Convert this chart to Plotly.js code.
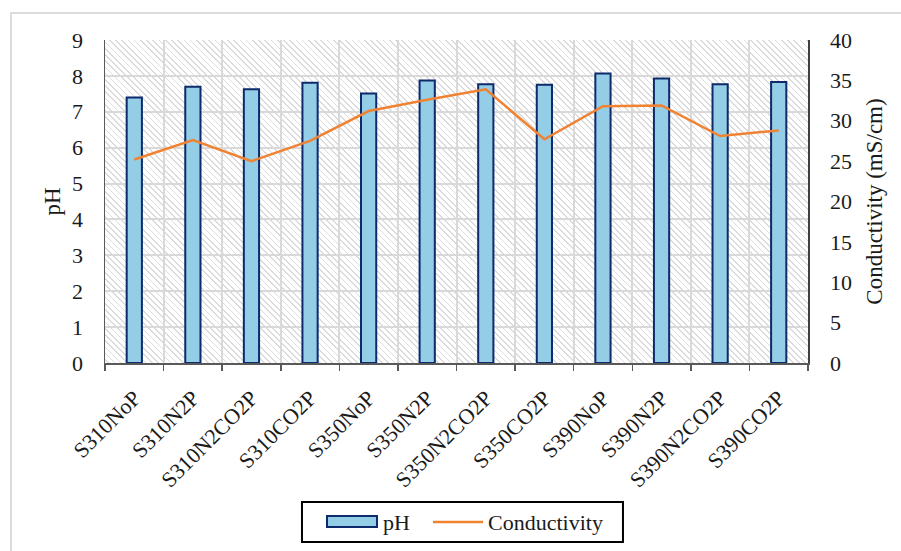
<!DOCTYPE html>
<html>
<head>
<meta charset="utf-8">
<script src="https://cdn.plot.ly/plotly-3.0.1.min.js"></script>
<style>
  html, body { margin: 0; padding: 0; background: #ffffff; }
  #wrap { position: relative; width: 901px; height: 551px; overflow: hidden; }
  /* outer frame of the figure (top and left edges) */
  #frame { position: absolute; left: 10px; top: 12px; width: 1000px; height: 1000px;
           border-top: 2px solid #dcdcdc; border-left: 2px solid #dcdcdc; }
  /* diagonal hatch behind the plotting area */
  #hatch { position: absolute; left: 105px; top: 40px; width: 703px; height: 323px;
           background: repeating-linear-gradient(45deg, #ffffff 0px, #ffffff 2px, #dcdcdc 2px, #dcdcdc 3.2px, #ffffff 3.2px, #ffffff 4.4px); }
  #chart { position: absolute; left: 0; top: 0; width: 901px; height: 551px; }
</style>
</head>
<body>
<div id="wrap">
  <div id="frame"></div>
  <div id="hatch"></div>
  <div id="chart"></div>
</div>
<script>
// Samples (synthesis temperature + purge gas)
const categories = ['S310NoP', 'S310N2P', 'S310N2CO2P', 'S310CO2P',
                    'S350NoP', 'S350N2P', 'S350N2CO2P', 'S350CO2P',
                    'S390NoP', 'S390N2P', 'S390N2CO2P', 'S390CO2P'];
// pH of each sample (left axis)
const phValues = [7.40, 7.70, 7.63, 7.81, 7.51, 7.87, 7.77, 7.75, 8.07, 7.93, 7.77, 7.83];
// Electrical conductivity, mS/cm (right axis)
const conductivity = [25.2, 27.6, 25.0, 27.5, 31.2, 32.6, 33.9, 27.7, 31.8, 31.9, 28.1, 28.8];
// Legend entries
const legendNames = ['pH', 'Conductivity'];

const serif = "'Liberation Serif', 'Times New Roman', serif";
const textColor = '#1a1a1a';
const barFill = '#93cde6';
const barEdge = '#0d2a6c';
const lineColor = '#f08232';

const traces = [
  {
    type: 'bar',
    name: legendNames[0],
    x: categories,
    y: phValues,
    width: 0.26,
    marker: { color: barFill, line: { color: barEdge, width: 2 } },
    yaxis: 'y'
  },
  {
    type: 'scatter',
    mode: 'lines',
    name: legendNames[1],
    x: categories,
    y: conductivity,
    line: { color: lineColor, width: 2.5 },
    yaxis: 'y2'
  }
];

// Boxed legend below the axis, laid out in paper coordinates
const legendShapes = [
  { type: 'rect', xref: 'paper', yref: 'paper', x0: 0.2802, x1: 0.7368, y0: -0.5542, y1: -0.4303,
    line: { color: '#000000', width: 2 }, fillcolor: '#ffffff', layer: 'above' },
  { type: 'rect', xref: 'paper', yref: 'paper', x0: 0.3158, x1: 0.3869, y0: -0.5077, y1: -0.4737,
    line: { color: barEdge, width: 2 }, fillcolor: barFill, layer: 'above' },
  { type: 'line', xref: 'paper', yref: 'paper', x0: 0.4666, x1: 0.5377, y0: -0.4923, y1: -0.4923,
    line: { color: lineColor, width: 2.5 }, layer: 'above' }
];
const legendLabels = [
  { text: legendNames[0], xref: 'paper', yref: 'paper', x: 0.3926, y: -0.4923,
    xanchor: 'left', yanchor: 'middle', showarrow: false,
    font: { family: serif, size: 22, color: textColor } },
  { text: legendNames[1], xref: 'paper', yref: 'paper', x: 0.5420, y: -0.4923,
    xanchor: 'left', yanchor: 'middle', showarrow: false,
    font: { family: serif, size: 22, color: textColor } }
];

const layout = {
  width: 901,
  height: 551,
  margin: { l: 105, r: 93, t: 40, b: 188 },
  paper_bgcolor: 'rgba(0,0,0,0)',
  plot_bgcolor: 'rgba(0,0,0,0)',
  font: { family: serif, size: 22, color: textColor },
  showlegend: false,
  shapes: legendShapes,
  annotations: legendLabels,
  xaxis: {
    type: 'category',
    tickson: 'boundaries',
    ticks: 'outside', ticklen: 6, tickwidth: 1.5, tickcolor: '#595959',
    tickangle: -45,
    ticklabelstandoff: 12,
    showline: true, linecolor: '#595959', linewidth: 1.5,
    showgrid: true, gridcolor: '#d9d9d9', gridwidth: 2,
    tickfont: { family: serif, size: 22, color: textColor },
    range: [-0.5, 11.5],
    automargin: false,
    fixedrange: true
  },
  yaxis: {
    range: [0, 9], dtick: 1,
    showline: true, linecolor: '#595959', linewidth: 1.5,
    ticks: '', ticklabelstandoff: 16,
    showgrid: true, gridcolor: '#d9d9d9', gridwidth: 2,
    zeroline: false,
    automargin: false,
    tickfont: { family: serif, size: 22, color: textColor },
    title: { text: 'pH', font: { family: serif, size: 23, color: textColor }, standoff: 5 }
  },
  yaxis2: {
    overlaying: 'y', side: 'right',
    range: [0, 40], dtick: 5,
    showline: true, linecolor: '#404040', linewidth: 1.5,
    ticks: '', ticklabelstandoff: 16,
    showgrid: false, zeroline: false,
    automargin: false,
    tickfont: { family: serif, size: 22, color: textColor },
    title: { text: 'Conductivity (mS/cm)', font: { family: serif, size: 23, color: textColor }, standoff: 15 }
  }
};

Plotly.newPlot('chart', traces, layout, { displayModeBar: false, staticPlot: true });
</script>
</body>
</html>
